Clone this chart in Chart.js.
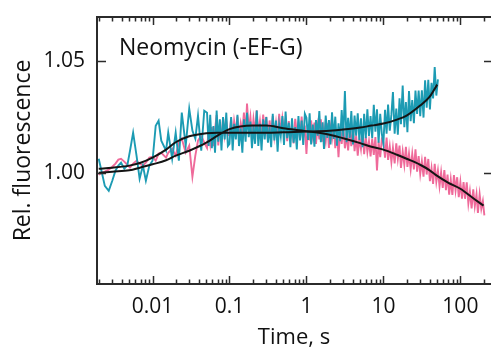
<!DOCTYPE html>
<html><head><meta charset="utf-8">
<script src="https://cdn.jsdelivr.net/npm/chart.js@4/dist/chart.umd.min.js"></script>
<style>html,body{margin:0;padding:0;background:#fff;overflow:hidden}#wrap{width:491px;height:347px;position:relative}</style>
</head><body><div id="wrap"><canvas id="c" width="491" height="347"></canvas></div>
<script>
const titleText = 'Neomycin (-EF-G)';
const xAxisTitle = 'Time, s';
const yAxisTitle = 'Rel. fluorescence';
const xTickValues = [0.01, 0.1, 1, 10, 100];
const xTickLabels = ['0.01', '0.1', '1', '10', '100'];
const yTickValues = [1.00, 1.05];
const yTickLabels = ['1.00', '1.05'];

const timeEarly = [0.0020,0.0022,0.0024,0.0027,0.0030,0.0033,0.0036,0.0039,0.0043,0.0047,0.0051,0.0056,0.0062,0.0068,0.0075,0.0082,0.0091,0.010,0.011,0.012,0.013,0.015,0.016,0.018,0.020,0.022,0.024,0.027,0.030,0.033,0.036,0.039,0.043,0.047];
const cyanEarly = [1.0063,1.0000,0.9941,0.9919,0.9964,1.0009,1.0032,1.0045,1.0018,1.0032,1.0099,1.0180,1.0077,0.9973,1.0032,0.9964,1.0032,1.0054,1.0211,1.0234,1.0144,1.0099,1.0180,1.0063,1.0180,1.0054,1.0270,1.0122,1.0288,1.0189,1.0153,1.0257,1.0099,1.0279];
const pinkEarly = [0.9991,1.0000,1.0005,1.0014,1.0027,1.0041,1.0059,1.0063,1.0050,1.0036,1.0023,1.0041,1.0054,1.0041,1.0032,1.0045,1.0068,1.0072,1.0054,1.0086,1.0090,1.0068,1.0090,1.0108,1.0077,1.0135,1.0153,1.0090,1.0122,0.9982,1.0077,1.0144,1.0167,1.0135];

const timeDense = [0.0511,0.0536,0.0562,0.0590,0.0619,0.0649,0.0681,0.0715,0.0750,0.0787,0.0825,0.0866,0.0909,0.0953,
0.100,0.105,0.110,0.115,0.121,0.127,0.133,0.140,0.147,0.154,0.162,0.169,0.178,0.187,0.196,0.205,0.215,0.226,0.237,0.249,0.261,0.274,0.287,0.301,0.316,0.332,0.348,0.365,0.383,0.402,0.422,0.442,0.464,0.487,0.511,0.536,0.562,0.590,0.619,0.649,0.681,0.715,0.750,0.787,0.825,0.866,0.909,0.953,
1.00,1.05,1.10,1.15,1.21,1.27,1.33,1.40,1.47,1.54,1.62,1.69,1.78,1.87,1.96,2.05,2.15,2.26,2.37,2.49,2.61,2.74,2.87,3.01,3.16,3.32,3.48,3.65,3.83,4.02,4.22,4.42,4.64,4.87,5.11,5.36,5.62,5.90,6.19,6.49,6.81,7.15,7.50,7.87,8.25,8.66,9.09,9.53,
10.0,10.5,11.0,11.5,12.1,12.7,13.3,14.0,14.7,15.4,16.2,16.9,17.8,18.7,19.6,20.5,21.5,22.6,23.7,24.9,26.1,27.4,28.7,30.1,31.6,33.2,34.8,36.5,38.3,40.2,42.2,44.2,46.4,48.7,51.1,53.6,56.2,59.0,61.9,64.9,68.1,71.5,75.0,78.7,82.5,86.6,90.9,95.3,
100,105,110,115,121,127,133,140,147,154,162,169,178,187,196,205];

const cyanDense = [1.027,1.012,1.026,1.011,1.021,1.009,1.028,1.014,1.024,1.010,1.025,1.015,1.027,1.012,
1.013,1.025,1.010,1.022,1.015,1.026,1.012,1.020,1.009,1.024,1.014,1.027,1.016,1.023,1.011,1.021,1.013,1.028,1.012,1.022,1.010,1.024,1.015,1.025,
1.0135,1.0205,1.0115,1.0265,1.0145,1.0235,1.0095,1.0215,1.0165,1.0255,1.0125,1.0275,1.0155,1.0225,1.0115,1.0245,1.0135,1.0205,1.0105,1.0255,1.0145,1.0235,1.0125,1.0265,
1.0247,1.0147,1.0267,1.0127,1.0217,1.0117,1.0237,1.0167,1.0277,1.0137,1.0227,1.0107,1.0257,1.0157,1.0237,1.0127,
1.0272,1.0152,1.0252,1.0122,1.0222,1.0142,1.0282,1.0162,
1.0367,1.0137,1.0247,1.0157,1.0277,1.0127,1.0257,1.0167,1.0267,1.0147,
1.0245,1.0115,1.0265,1.0155,1.0285,1.0165,1.0255,
1.0155,1.0305,1.0185,1.0285,1.0135,1.0265,1.0175,
1.0131,1.0283,1.0175,1.0307,1.0189,1.0261,1.0363,1.0175,1.0288,1.0171,1.0335,1.0218,1.0392,1.0205,1.0318,1.0182,1.0367,1.0232,1.0327,1.0223,1.0369,1.0264,1.0369,1.0254,1.0371,1.0248,1.0415,1.0292,1.0418,1.0285,1.0404,1.0334,1.0475,1.0347,1.0420];

const pinkDense = [1.0111,1.0186,1.0130,1.0205,1.0120,1.0194,1.0259,1.0123,1.0208,1.0142,1.0247,1.0171,1.0235,1.0168,
1.0173,1.0243,1.0153,1.0233,1.0183,1.0253,1.0163,1.0223,
1.0181,1.0271,1.0171,1.0311,1.0191,1.0251,1.0161,1.0241,1.0181,1.0281,1.0171,1.0231,1.0161,1.0261,1.0191,1.0251,
1.0145,1.0235,1.0175,1.0255,1.0165,1.0225,1.0155,1.0265,1.0175,1.0245,1.0185,1.0235,
1.0142,1.0232,1.0162,1.0212,1.0132,1.0242,1.0172,1.0222,1.0152,1.0252,1.0162,1.0212,
1.0085,1.0215,1.0145,1.0235,1.0165,1.0225,1.0130,1.0210,1.0150,1.0240,1.0140,1.0200,
1.0142,1.0222,1.0112,1.0202,1.0152,1.0212,1.0110,1.0190,1.0070,1.0200,1.0130,1.0210,
1.0110,1.0170,1.0100,1.0190,1.0120,1.0210,1.0097,1.0167,1.0077,1.0157,1.0107,1.0187,
1.0083,1.0163,1.0093,1.0143,1.0073,1.0153,1.0080,1.0160,1.0010,1.0140,1.0070,1.0150,
1.0138,1.0068,1.0158,1.0058,1.0118,1.0048,1.0112,1.0042,1.0132,1.0062,1.0122,1.0022,
1.0096,1.0036,1.0116,1.0026,1.0086,1.0016,1.0085,1.0015,1.0105,1.0005,1.0075,0.9995,
1.0052,0.9982,1.0072,0.9992,1.0062,0.9962,1.0020,0.9950,1.0040,0.9960,1.0010,0.9940,
1.0002,0.9932,1.0012,0.9922,0.9992,0.9902,0.9970,0.9900,0.9990,0.9920,0.9980,0.9890,
0.9958,0.9883,0.9958,0.9883,0.9957,0.9862,0.9916,0.9840,0.9925,0.9850,0.9904,0.9819,0.9903,0.9838,0.9873,0.9808];

const fitTime = [0.002,0.003,0.005,0.007,0.01,0.015,0.02,0.03,0.05,0.07,0.1,0.2,0.3,0.5,1,2,3,5,7,10,15,20,30,40,50,70,100,150,200];
const cyanFit = [1.0018,1.0023,1.0032,1.0045,1.0068,1.0104,1.0137,1.0164,1.0178,1.0180,1.0180,1.0180,1.0180,1.0182,1.0185,1.0189,1.0194,1.0203,1.0212,1.0221,1.0239,1.0257,1.0302,1.0342,1.0396];
const pinkFit = [1.0000,1.0005,1.0011,1.0024,1.0038,1.0056,1.0077,1.0099,1.0135,1.0167,1.0196,1.0212,1.0212,1.0200,1.0187,1.0171,1.0155,1.0133,1.0117,1.0104,1.0081,1.0063,1.0036,1.0011,0.9986,0.9955,0.9928,0.9883,0.9852];

function pts(ts, vs) { const n = Math.min(ts.length, vs.length); const o = []; for (let i = 0; i < n; i++) o.push({x: ts[i], y: vs[i]}); return o; }

const FONT = '"Open Sans", "Noto Sans", sans-serif';
const TXT = '#111111';

const framePlugin = {
  id: 'frame',
  afterDatasetsDraw(chart) {
    const {ctx, chartArea: a, scales} = chart;
    const x = scales.x, y = scales.y;
    ctx.save();
    ctx.strokeStyle = '#2b2b2b';
    ctx.lineWidth = 2;
    ctx.beginPath();
    ctx.moveTo(a.right + 2, a.top); ctx.lineTo(a.left, a.top); ctx.lineTo(a.left, a.bottom); ctx.lineTo(a.right + 2, a.bottom);
    ctx.stroke();
    ctx.lineWidth = 1.5;
    ctx.beginPath();
    for (let e = -3; e <= 2; e++) {
      for (let m = 1; m <= 9; m++) {
        const v = m * Math.pow(10, e);
        if (v < x.min || v > x.max) continue;
        const px = Math.round(x.getPixelForValue(v)) + 0.5;
        const len = m === 1 ? 8 : 4.5;
        ctx.moveTo(px, a.bottom); ctx.lineTo(px, a.bottom - len);
        ctx.moveTo(px, a.top); ctx.lineTo(px, a.top + len);
      }
    }
    yTickValues.forEach(v => {
      const py = Math.round(y.getPixelForValue(v)) + 0.5;
      ctx.moveTo(a.left, py); ctx.lineTo(a.left + 9, py);
      ctx.moveTo(a.right + 1, py); ctx.lineTo(a.right - 7, py);
    });
    ctx.stroke();
    ctx.fillStyle = TXT;
    ctx.font = '23px ' + FONT;
    ctx.textBaseline = 'alphabetic';
    ctx.textAlign = 'left';
    ctx.fillText(titleText, 119, 55);
    ctx.restore();
  }
};

new Chart(document.getElementById('c'), {
  type: 'line',
  data: {
    datasets: [
      {data: pts(fitTime, cyanFit), borderColor: '#141414', borderWidth: 2, pointRadius: 0, cubicInterpolationMode: 'monotone'},
      {data: pts(fitTime, pinkFit), borderColor: '#141414', borderWidth: 2, pointRadius: 0, cubicInterpolationMode: 'monotone'},
      {data: pts(timeEarly, cyanEarly).concat(pts(timeDense, cyanDense)), borderColor: '#1c9bb3', borderWidth: 1.9, pointRadius: 0, tension: 0},
      {data: pts(timeEarly, pinkEarly).concat(pts(timeDense, pinkDense)), borderColor: '#ef6a9a', borderWidth: 1.9, pointRadius: 0, tension: 0}
    ]
  },
  options: {
    responsive: false,
    animation: false,
    devicePixelRatio: 1,
    layout: {padding: {top: 17, right: 0, left: 0, bottom: 0}},
    plugins: {legend: {display: false}, tooltip: {enabled: false}},
    scales: {
      x: {
        type: 'logarithmic', min: 0.0019, max: 250,
        grid: {display: false}, border: {display: false},
        afterBuildTicks: s => { s.ticks = xTickValues.map(v => ({value: v})); },
        afterFit: s => { s.height = 63; },
        ticks: {autoSkip: false, maxRotation: 0, padding: 2, color: TXT, font: {family: FONT, size: 21},
          callback: (v) => { const i = xTickValues.indexOf(v); return i >= 0 ? xTickLabels[i] : ''; }},
        title: {display: true, text: xAxisTitle, color: TXT, font: {family: FONT, size: 22, lineHeight: 0.8}, padding: {top: 0, bottom: 0}}
      },
      y: {
        type: 'linear', min: 0.95, max: 1.07,
        grid: {display: false}, border: {display: false},
        afterBuildTicks: s => { s.ticks = yTickValues.map(v => ({value: v})); },
        afterFit: s => { s.width = 97; },
        ticks: {padding: 4, color: TXT, font: {family: FONT, size: 21},
          callback: (v) => { const i = yTickValues.findIndex(t => Math.abs(t - v) < 1e-9); return i >= 0 ? yTickLabels[i] : ''; }},
        title: {display: true, text: yAxisTitle, color: TXT, font: {family: FONT, size: 23}, padding: {top: 10, bottom: 0}}
      }
    }
  },
  plugins: [framePlugin]
});
</script></body></html>
